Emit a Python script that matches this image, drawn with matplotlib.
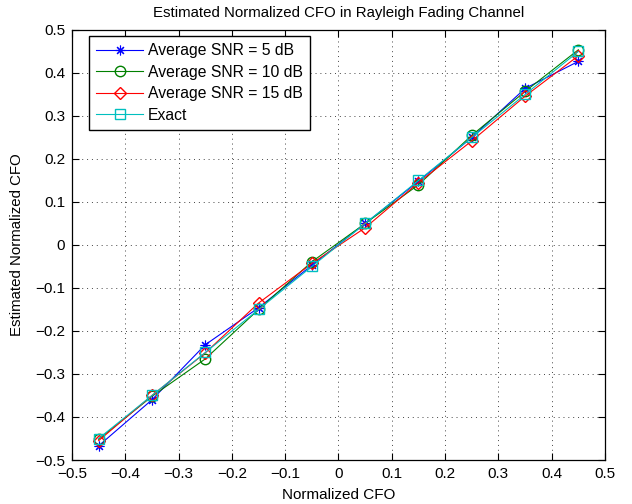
import numpy as np
import matplotlib
matplotlib.use("Agg")
import matplotlib.pyplot as plt

plt.rcParams['font.family'] = ['Liberation Sans', 'DejaVu Sans']

# Data
cfo = [-0.45, -0.35, -0.25, -0.15, -0.05, 0.05, 0.15, 0.25, 0.35, 0.45]
est_5db = [-0.467, -0.360, -0.232, -0.146, -0.047, 0.050, 0.148, 0.250, 0.364, 0.427]
est_10db = [-0.452, -0.352, -0.265, -0.150, -0.039, 0.050, 0.140, 0.255, 0.357, 0.454]
est_15db = [-0.455, -0.350, -0.251, -0.135, -0.043, 0.040, 0.145, 0.242, 0.346, 0.440]
exact = [-0.45, -0.35, -0.25, -0.15, -0.05, 0.05, 0.15, 0.25, 0.35, 0.45]

fig = plt.figure(figsize=(6.32, 5.04), dpi=100)
ax = fig.add_axes([0.1139, 0.0873, 0.8434, 0.8532])

lw = 0.8
ax.plot(cfo, est_5db, color='#0000ff', marker=(8, 2, 0), ms=7, mew=0.8, lw=lw,
        label='Average SNR = 5 dB')
ax.plot(cfo, est_10db, color='#008000', marker='o', ms=7.5, mfc='none', lw=lw,
        label='Average SNR = 10 dB')
ax.plot(cfo, est_15db, color='#ff0000', marker='D', ms=6, mfc='none', lw=lw,
        label='Average SNR = 15 dB')
ax.plot(cfo, exact, color='#00bfbf', marker='s', ms=6.5, mfc='none', lw=lw,
        label='Exact')

ax.set_xlim(-0.5, 0.5)
ax.set_ylim(-0.5, 0.5)
ticks = np.round(np.arange(-0.5, 0.51, 0.1), 1)
ax.set_xticks(ticks)
ax.set_yticks(ticks)
ax.set_xticklabels([f'{t:g}'.replace('-', '\u2212') if t != 0 else '0' for t in ticks])
ax.set_yticklabels([f'{t:g}'.replace('-', '\u2212') if t != 0 else '0' for t in ticks])
ax.tick_params(direction='in', top=True, right=True, length=5, width=0.8,
               labelsize=11, pad=5)
for s in ax.spines.values():
    s.set_linewidth(0.9)
ax.grid(True, linestyle=(0, (1, 4)), color='#444444', linewidth=0.7)

ax.set_title('Estimated Normalized CFO in Rayleigh Fading Channel', fontsize=10.8, pad=9)
ax.set_xlabel('Normalized CFO', fontsize=11, labelpad=5)
ax.set_ylabel('Estimated Normalized CFO', fontsize=10.8, labelpad=8)

leg = ax.legend(loc='upper left', bbox_to_anchor=(89 / 632, 1 - 36 / 504),
                bbox_transform=fig.transFigure, borderaxespad=0,
                fontsize=11.3, handlelength=3.0, handletextpad=0.3,
                labelspacing=0.42, fancybox=False, framealpha=1,
                edgecolor='black', borderpad=0.45)
leg.get_frame().set_linewidth(1.0)

fig.savefig('out.png', dpi=100)
